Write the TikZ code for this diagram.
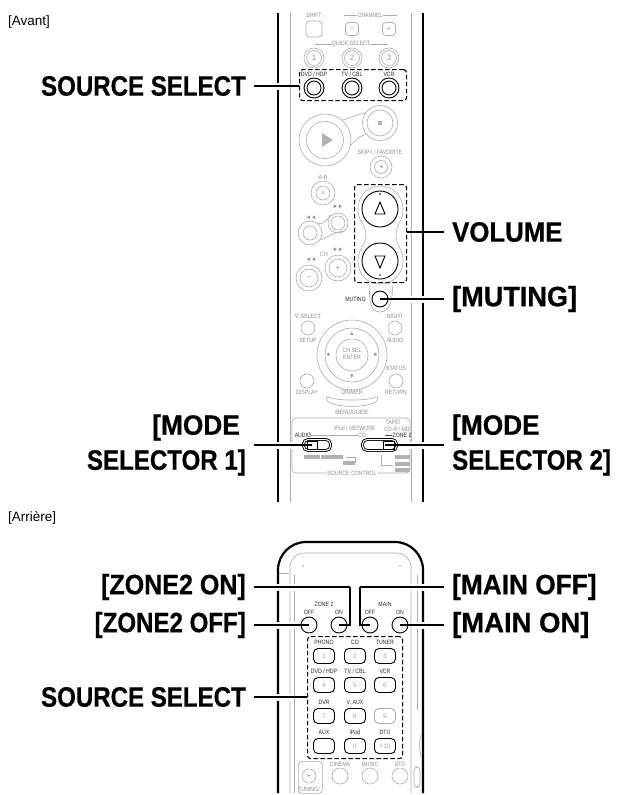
\documentclass[tikz,border=0pt]{standalone}
\usepackage{fontspec}
\setmainfont{Liberation Sans}
\newfontfamily\lblfont[FakeStretch=.86,FakeBold=.6]{Liberation Sans}
\newfontfamily\tinyfont[FakeStretch=.84]{Liberation Sans}
\newcommand{\wider}[2]{\scalebox{#1}[1]{#2}}
\usetikzlibrary{calc,positioning}
\definecolor{faint}{gray}{.68}
\tikzset{
  punkt/.style={font=\tinyfont\fontsize{6.2}{7}\selectfont, text=black!45, inner sep=0pt},
  darkpunkt/.style={punkt, text=black!85},
  bigleft/.style={font=\lblfont\bfseries\fontsize{28}{35}\selectfont, anchor=east, align=right, inner xsep=8pt, inner ysep=0pt},
  bigright/.style={font=\lblfont\bfseries\fontsize{28}{35}\selectfont, anchor=west, align=left, inner xsep=8pt, inner ysep=0pt},
  corner label/.style={font=\fontsize{13.5}{15}\selectfont, anchor=west, inner sep=0pt},
  dashbox/.style={draw, line width=1.1pt, dashed, dash pattern=on 4.5pt off 2.5pt, rounded corners=3pt, inner sep=0pt, anchor=north west},
  btn/.style={circle, draw=black, line width=.9pt, inner sep=0pt},
  keybtn/.style={rectangle, rounded corners=4.5pt, draw=black, line width=.9pt, minimum width=21pt, minimum height=15pt, inner sep=0pt, font=\fontsize{6.5}{7}\selectfont, text=black!35},
  softbtn/.style={circle, draw=faint, line width=.6pt, inner sep=0pt, text=black!40, font=\fontsize{8}{9}\selectfont},
  softkey/.style={rectangle, rounded corners=3.5pt, draw=faint, line width=.7pt, inner sep=0pt, text=black!40, font=\fontsize{8}{9}\selectfont},
  soft/.style={draw=faint, line width=.6pt},
  body/.style={draw=black, line width=2.2pt},
  leader/.style={draw=black, line width=1.6pt, preaction={draw=white, line width=7pt, shorten >=14pt}},
  short leader/.style={draw=black, line width=1.6pt},
}
\begin{document}
\begin{tikzpicture}[x=1pt, y=-1pt]
	\useasboundingbox (0,0) rectangle (618,795);
	\fill[white] (0,0) rectangle (618,795);

	\node[corner label] (avant) at (8,22) {[Avant]};
	\node[corner label] (arriere) at (8,518) {[Arrière]};

	% front: faint keys, top
	\draw[soft] (290,13) -- (290,502);
	\draw[soft] (411,13) -- (411,502);
	\node[softkey, minimum size=16pt] (shift) at (314,29) {};
	\node[softkey, minimum size=13pt] (chdown) at (352,29) {\fontsize{7}{8}\selectfont −};
	\node[softkey, minimum size=13pt] (chup) at (389,29) {\fontsize{7}{8}\selectfont +};
	\node[punkt] (tshift) at (314,15) {SHIFT};
	\node[punkt] (tchan) at (370,15) {CHANNEL};
	\node[punkt] (tquick) at (351,44) {QUICK SELECT};
	\draw[soft] (344,15) -- (tchan.west);
	\draw[soft] (tchan.east) -- (397,15);
	\draw[soft] (315,44) -- (tquick.west);
	\draw[soft] (tquick.east) -- (388,44);
	\foreach \qx/\qn in {314/1,352/2,389/3}{
		\node[softbtn, minimum size=20pt] (quick\qn) at (\qx,58) {\qn};
		\node[softbtn, minimum size=15pt] (quickin\qn) at (\qx,58) {};
	}

	% play and stop
	\node[softbtn, minimum size=52pt] (play) at (325,140) {};
	\node[softbtn, minimum size=37pt] (playin) at (325,140) {};
	\node[softbtn, minimum size=35pt] (stop) at (380,123) {};
	\node[softbtn, minimum size=26pt] (stopin) at (380,123) {};
	\fill[black!30] (322,133) -- (333,140) -- (322,147) -- cycle;
	\fill[black!30] (378,121) rectangle (382,125);
	\draw[soft] (342,120) .. controls (350,119) and (356,114) .. (366,113);
	\draw[soft] (350,146) .. controls (355,140) and (360,136) .. (367,134);
	\node[punkt] (tskip) at (380,152) {SKIP+ / FAVORITE};
	\node[softbtn, minimum size=22pt] (skip) at (381,167) {};
	\node[softbtn, minimum size=13pt] (skipin) at (381,167) {\fontsize{5}{5}\selectfont ◄};

	% front: faint keys, middle
	\node[punkt] (tab) at (323,177) {A-B};
	\node[softbtn, minimum size=24pt] (pause) at (323,193) {};
	\node[softbtn, minimum size=14pt] (pausein) at (323,193) {\fontsize{5}{5}\selectfont II};
	\node[softbtn, minimum size=24pt] (rew) at (310,233) {};
	\node[softbtn, minimum size=14pt] (rewin) at (310,233) {};
	\node[softbtn, minimum size=20pt] (ffw) at (338,223) {};
	\node[softbtn, minimum size=14pt] (ffwin) at (338,223) {};
	\node[punkt] (trew) at (311,218) {◄◄};
	\node[punkt] (tffw) at (338,207) {►►};
	\draw[soft] (317,223) .. controls (323,226) and (326,220) .. (331,215);
	\draw[soft] (320,240) .. controls (328,238) and (332,232) .. (345,231);
	\node[softbtn, minimum size=26pt] (chleft) at (309,278) {};
	\node[softbtn, minimum size=18pt] (chleftin) at (309,278) {−};
	\node[softbtn, minimum size=26pt] (chright) at (338,268) {};
	\node[softbtn, minimum size=18pt] (chrightin) at (338,268) {+};
	\node[punkt] (tch) at (324,254) {CH};
	\node[punkt] (tchl) at (311,260) {◄◄};
	\node[punkt] (tchr) at (338,250) {►►};

	\draw[soft] (380,186) .. controls (393,186) and (403,196) .. (403,209) .. controls (403,222) and (396,224) .. (396,235) .. controls (396,246) and (403,248) .. (403,261) .. controls (403,274) and (393,284) .. (380,284) .. controls (367,284) and (358,274) .. (358,261) .. controls (358,248) and (366,246) .. (366,235) .. controls (366,224) and (358,222) .. (358,209) .. controls (358,196) and (367,186) .. (380,186);
	\draw[soft] (369,284) .. controls (370,296) and (368,312) .. (380,312) .. controls (392,312) and (392,296) .. (393,284);

	\node[punkt] (tvsel) at (308,316) {V. SELECT};
	\node[softbtn, minimum size=14pt] (vsel) at (308,328) {};
	\node[punkt] (tsetup) at (308,340) {SETUP};
	\node[punkt] (tnight) at (395,316) {NIGHT};
	\node[softbtn, minimum size=14pt] (night) at (395,328) {};
	\node[punkt] (taudio) at (395,340) {AUDIO};

	% navigation ring
	\node[softbtn, minimum size=70pt] (ringout) at (352,355) {};
	\node[softbtn, minimum size=54pt] (ringmid) at (352,355) {};
	\node[softbtn, minimum size=32pt] (ringin) at (352,355) {};
	\node[punkt, align=center] (tenter) at (352,354) {CH SEL\\ENTER};
	\node[punkt] (tup) at (352,334) {▲};
	\node[punkt] (tdown) at (352,377) {▼};
	\node[punkt] (tleft) at (328,355) {◄};
	\node[punkt] (tright) at (376,355) {►};

	\node[punkt] (tstatus) at (396,368) {STATUS};
	\node[softbtn, minimum size=14pt] (status) at (396,381) {};
	\node[punkt] (treturn) at (396,392) {RETURN};
	\node[softbtn, minimum size=14pt] (display) at (307,381) {};
	\node[punkt] (tdisplay) at (307,392) {DISPLAY};
	\node[punkt] (tdimmer) at (352,392) {DIMMER};
	\draw[soft, rounded corners=2pt] (327,396) .. controls (335,401) and (369,401) .. (377,396) -- (378,400) .. controls (368,408) and (336,408) .. (326,400) -- cycle;
	\node[punkt] (tmenu) at (352,412) {MENU/GUIDE};

	% source control panel
	\node[punkt] (tctrl) at (352,473) {SOURCE CONTROL};
	\draw[soft, rounded corners=4pt] (tctrl.west) -- (292,473) -- (292,418) -- (410,418) -- (410,473) -- (tctrl.east);
	\node[punkt] (tipod) at (355,428) {iPod / NETWORK};
	\node[punkt] (ttape) at (393,422) {TAPE/};
	\node[punkt] (tcdr) at (397,429) {CD-R / MD};
	\node[punkt] (tcd) at (362,435) {CD};
	\node[darkpunkt] (taudioin) at (303,435) {AUDIO};
	\node[darkpunkt] (tzone) at (402,435) {ZONE 2};
	\draw[soft] (taudioin.east) -- (tcd.west);
	\draw[black!70, line width=.6pt] (385,435) -- (tzone.west);
	\foreach \bx/\by/\bw in {312/457/16,332/457/22,349/463/12,402/457/15,402/464/15,402/470/15}{
		\fill[black!30] ($(\bx,\by)-(\bw/2,2)$) rectangle ($(\bx,\by)+(\bw/2,2)$);
	}
	\draw[soft] (346,457) -- (355,457) -- (355,463);
	\draw[soft] (381,455) -- (381,465) -- (393,465);

	% front: switches
	\node[keybtn, double, double distance=1pt, minimum width=27pt, minimum height=11pt] (modeleft) at (317,445) {};
	\node[keybtn, double, double distance=1pt, minimum width=34pt, minimum height=11pt] (moderight) at (379.5,445) {};
	\draw[line width=.9pt] (307,441) rectangle (317,449);
	\draw[line width=.9pt] (383,441) rectangle (394,449);
	\coordinate (knobleft) at (312,445);
	\coordinate (knobright) at (385,445);

	% front: black keys
	\node[darkpunkt] (tdvd) at (314,74) {DVD / HDP};
	\node[darkpunkt] (ttv) at (352,74) {TV / CBL};
	\node[darkpunkt] (tvcr) at (389,74) {VCR};
	\foreach \sx/\sn in {314/dvd,352/tv,389/vcr}{
		\node[btn, minimum size=20pt] (\sn) at (\sx,88) {};
		\node[btn, minimum size=14pt] (\sn in) at (\sx,88) {};
	}
	\node[btn, minimum size=36pt] (volup) at (380,209) {};
	\node[btn, minimum size=36pt] (voldown) at (380,261) {};
	\draw[line width=.9pt] (380,202) -- (375,214) -- (385,214) -- cycle;
	\draw[line width=.9pt] (380,268) -- (375,256) -- (385,256) -- cycle;
	\fill (380,194) circle (.9);
	\fill (380,275) circle (.9);
	\node[btn, minimum size=16pt] (muting) at (380,299) {};
	\node[darkpunkt, anchor=east] (tmuting) at (366,299) {MUTING};

	% front: body and boxes
	\draw[body] (278,13) -- (278,502);
	\draw[body] (423,13) -- (423,502);
	\node[dashbox, minimum width=107pt, minimum height=31pt] (srcbox) at (299,69) {};
	\node[dashbox, minimum width=52pt, minimum height=98pt] (volbox) at (354,184) {};

	\node[bigleft] (lblsource) at (254,86) {SOURCE SELECT};
	\node[bigright] (lblvolume) at (444,232) {\wider{1.07}{VOLUME}};
	\node[bigright] (lblmuting) at (444,299) {\wider{1.125}{[MUTING]}};
	\node[bigleft] (lblmodeleft) at (254,445) {\wider{1.09}{[MODE}\hspace*{6pt}\\SELECTOR 1]};
	\node[bigright] (lblmoderight) at (444,445) {\wider{1.09}{[MODE}\\SELECTOR 2]};

	\draw[leader] (lblsource.east) -- (lblsource.east -| srcbox.west);
	\draw[short leader] (lblvolume.west) -- (lblvolume.west -| volbox.east);
	\draw[leader] (lblmuting.west) -- (muting.center);
	\draw[leader] (lblmodeleft.east) -- (knobleft);
	\draw[leader] (lblmoderight.west) -- (knobright);

	% rear: faint parts
	\draw[soft, rounded corners=14pt] (290,793) -- (290,553) -- (411,553) -- (411,793);
	\draw[soft] (294,575) -- (294,793);
	\draw[soft] (417,575) -- (417,710);
	\draw[soft] (278,573) -- (289,573);
	\fill[black!30] (303,566) circle (1);
	\fill[black!30] (400,566) circle (1);
	\node[softkey, minimum width=24pt, minimum height=32pt, anchor=north west] (tuner) at (298,761) {};
	\node[softbtn, minimum size=14pt] (tuneplus) at (309,776) {+};
	\node[punkt] (ttuning) at (309,789) {TUNING/};
	\foreach \mx/\mt/\mn in {340/CINEMA/cin,370/MUSIC/mus,400/STD/std}{
		\node[punkt] (t\mn) at (\mx,764) {\mt};
		\node[softbtn, minimum size=16pt] (\mn) at (\mx,776) {};
	}
	\node[softkey, minimum width=6pt, minimum height=20pt] (slide) at (417,777) {};
	\draw[soft] (421,735) .. controls (419,742) and (419,750) .. (421,757);

	% rear: black keys
	\foreach \rx/\rt/\rn in {309/OFF/zoff,339/ON/zon,370/OFF/moff,400/ON/mon}{
		\node[darkpunkt] (t\rn) at (\rx,612) {\rt};
		\node[btn, minimum size=16pt] (\rn) at (\rx,625) {};
	}
	\node[darkpunkt] (tzonetwo) at (324,604) {ZONE 2};
	\node[darkpunkt] (tmain) at (385,604) {MAIN};
	\foreach \kx/\ky/\kt/\kn in {324/656/PHONO/1,355/656/CD/2,385/656/TUNER/3,
		324/685/{DVD / HDP}/4,355/685/{TV / CBL}/5,385/685/VCR/6,
		324/716/DVR/7,355/716/V. AUX/8,
		355/746/iPod/0,385/746/DTU/+10}{
		\node[keybtn] (key\kn) at (\kx,\ky) {\kn};
		\node[darkpunkt, above=3pt of key\kn] (tkey\kn) {\kt};
	}
	\node[keybtn] (keyaux) at (324,746) {};
	\node[darkpunkt, above=3pt of keyaux] (tkeyaux) {AUX};
	\node[keybtn, draw=faint] (keynine) at (385,716) {9};

	% rear: body and box
	\draw[body, rounded corners=28pt] (278,793) -- (278,542) -- (423,542) -- (423,793);
	\node[dashbox, minimum width=95pt, minimum height=122pt] (keybox) at (307,636) {};

	\node[bigleft] (lblzoneon) at (254,587) {\wider{1.04}{[ZONE2 ON]}};
	\node[bigleft] (lblzoneoff) at (254,625) {[ZONE2 OFF]};
	\node[bigright] (lblmainoff) at (444,587) {\wider{1.09}{[MAIN OFF]}};
	\node[bigright] (lblmainon) at (444,625) {\wider{1.14}{[MAIN ON]}};
	\node[bigleft] (lblrear) at (254,697) {SOURCE SELECT};
	\coordinate (elbowzone) at (350,587);
	\coordinate (elbowmain) at (360,587);

	\draw[leader] (lblzoneon.east) -- (elbowzone);
	\draw[short leader, line join=miter] (elbowzone) -- (350,625) -- (zon.center);
	\draw[leader] (lblmainoff.west) -- (elbowmain);
	\draw[short leader, line join=miter] (elbowmain) -- (360,625) -- (moff.center);
	\draw[leader] (lblzoneoff.east) -- (zoff.center);
	\draw[leader] (lblmainon.west) -- (mon.center);
	\draw[leader] (lblrear.east) -- (lblrear.east -| keybox.west);
	\fill[white] (0,793.5) rectangle (618,795);
\end{tikzpicture}
\end{document}
